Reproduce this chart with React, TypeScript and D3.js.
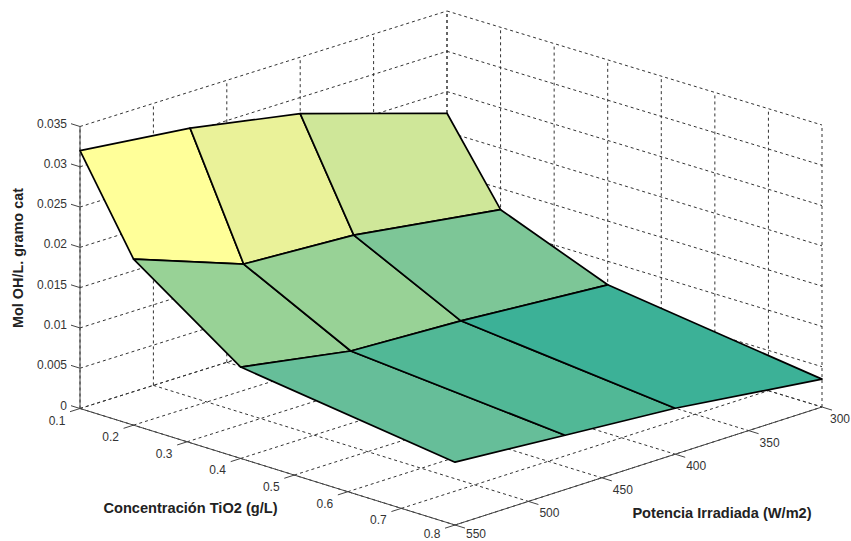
import React from 'react';
import * as d3 from 'd3';

// TiO2 concentration (rows) and irradiated power (columns) of the measured surface
const concentration = [0.1, 0.2, 0.4, 0.8];
const power = [550, 475, 400, 300];
const molOH = [
  [0.032, 0.0305, 0.02799, 0.02231],
  [0.0206, 0.01568, 0.01496, 0.01236],
  [0.01134, 0.00899, 0.0084, 0.00708],
  [0.0078, 0.00675, 0.0057, 0.00346],
];

const xTicks = [0.1, 0.2, 0.3, 0.4, 0.5, 0.6, 0.7, 0.8];
const yTicks = [300, 350, 400, 450, 500, 550];
const zTicks = [0, 0.005, 0.01, 0.015, 0.02, 0.025, 0.03, 0.035];
const zTickLabels = ['0', '0.005', '0.01', '0.015', '0.02', '0.025', '0.03', '0.035'];

const colorLevels = [0.0059, 0.0074, 0.0087, 0.0105, 0.012, 0.0142, 0.0192, 0.0222, 0.0247];
const colorStops = ['#38b097', '#50b896', '#66be99', '#79c497', '#98d296', '#98d296', '#cde699', '#e9f299', '#ffff99'];

const WIDTH = 851;
const HEIGHT = 541;
const origin = { x: 80, y: 408.5 };

// oblique projection: each axis adds its own screen offset
const xDx = d3.scaleLinear().domain([0.1, 0.8]).range([0, 375]);
const xDy = d3.scaleLinear().domain([0.1, 0.8]).range([0, 116.5]);
const yDx = d3.scaleLinear().domain([550, 300]).range([0, 367]);
const yDy = d3.scaleLinear().domain([550, 300]).range([0, -118]);
const zDy = d3.scaleLinear().domain([0, 0.035]).range([0, -282]);
// the back corner sits a little lower than a pure oblique view would put it
const xFar = d3.scaleLinear().domain([0.1, 0.8]).range([1, 0]);
const yFar = d3.scaleLinear().domain([550, 300]).range([0, 1]);
const SAG = 2.5;

const project = (x: number, y: number, z: number): [number, number] => [
  origin.x + xDx(x) + yDx(y),
  origin.y + xDy(x) + yDy(y) + zDy(z) + SAG * xFar(x) * yFar(y),
];

const path = d3.line();
const faceColor = d3.scaleLinear<string>().domain(colorLevels).range(colorStops);

const xMin = 0.1, xMax = 0.8, yFront = 550, yBack = 300, zTop = 0.035;
const tickColor = '#333';
const font = '"Liberation Sans", Arial, sans-serif';

function Seg({ a, b, dashed }: { a: [number, number]; b: [number, number]; dashed?: boolean }) {
  return (
    <path
      d={path([a, b]) as string}
      fill="none"
      stroke={dashed ? '#333' : '#444'}
      strokeWidth={1}
      strokeDasharray={dashed ? '3 3' : undefined}
    />
  );
}

export default function App() {
  const cells: { key: string; d: string; fill: string }[] = [];
  concentration.slice(0, -1).forEach((cx, i) => {
    power.slice(0, -1).forEach((py, j) => {
      const corners: [number, number][] = [
        project(cx, py, molOH[i][j]),
        project(cx, power[j + 1], molOH[i][j + 1]),
        project(concentration[i + 1], power[j + 1], molOH[i + 1][j + 1]),
        project(concentration[i + 1], py, molOH[i + 1][j]),
      ];
      const mean = (molOH[i][j] + molOH[i][j + 1] + molOH[i + 1][j] + molOH[i + 1][j + 1]) / 4;
      cells.push({ key: `${i}-${j}`, d: (path(corners) as string) + 'Z', fill: faceColor(mean) });
    });
  });

  return (
    <svg
      width={WIDTH}
      height={HEIGHT}
      style={{ position: 'absolute', left: 0, top: 0, background: '#fff' }}
      fontFamily={font}
    >
      {/* grid on the floor and the two back walls */}
      <g>
        {xTicks.map(x => (
          <g key={x}>
            <Seg dashed a={project(x, yFront, 0)} b={project(x, yBack, 0)} />
            <Seg dashed a={project(x, yBack, 0)} b={project(x, yBack, zTop)} />
          </g>
        ))}
        {yTicks.map(y => (
          <g key={y}>
            <Seg dashed a={project(xMin, y, 0)} b={project(xMax, y, 0)} />
            <Seg dashed a={project(xMin, y, 0)} b={project(xMin, y, zTop)} />
          </g>
        ))}
        {zTicks.map(z => (
          <g key={z}>
            <Seg dashed a={project(xMin, yFront, z)} b={project(xMin, yBack, z)} />
            <Seg dashed a={project(xMin, yBack, z)} b={project(xMax, yBack, z)} />
          </g>
        ))}
      </g>

      {/* axes */}
      <Seg a={project(xMin, yFront, 0)} b={project(xMin, yFront, zTop)} />
      <Seg a={project(xMin, yFront, 0)} b={project(xMax, yFront, 0)} />
      <Seg a={project(xMax, yFront, 0)} b={project(xMax, yBack, 0)} />

      {xTicks.map(x => {
        const [px, py] = project(x, yFront, 0);
        return (
          <g key={x}>
            <path d={`M${px},${py}L${px - 10},${py + 3.2}`} stroke="#444" fill="none" />
            <text x={px - 23} y={Math.min(py + 16, HEIGHT - 3)} textAnchor="middle" fontSize={12} fill={tickColor}>
              {d3.format('.1f')(x)}
            </text>
          </g>
        );
      })}
      {yTicks.map(y => {
        const [px, py] = project(xMax, y, 0);
        return (
          <g key={y}>
            <path d={`M${px},${py}L${px + 10},${py + 3.1}`} stroke="#444" fill="none" />
            <text
              x={Math.min(px + 21, WIDTH - 11)}
              y={Math.min(py + 16, HEIGHT - 3)}
              textAnchor="middle"
              fontSize={12}
              fill={tickColor}
            >
              {y}
            </text>
          </g>
        );
      })}
      {zTicks.map((z, i) => {
        const [px, py] = project(xMin, yFront, z);
        return (
          <g key={z}>
            <path d={`M${px},${py}L${px - 9},${py - 2.8}`} stroke="#444" fill="none" />
            <text x={px - 13} y={py + 1} textAnchor="end" fontSize={12} fill={tickColor}>
              {zTickLabels[i]}
            </text>
          </g>
        );
      })}

      {/* surface */}
      <g>
        {cells.map(c => (
          <path key={c.key} d={c.d} fill={c.fill} stroke="#000" strokeWidth={1.7} strokeLinejoin="round" />
        ))}
      </g>

      <text
        transform="translate(23,258) rotate(-90)"
        textAnchor="middle"
        fontSize={14.4}
        fontWeight="bold"
        fill="#222"
      >
        Mol OH/L. gramo cat
      </text>
      <text x={190.5} y={513} textAnchor="middle" fontSize={14.6} fontWeight="bold" fill="#222">
        Concentración TiO2 (g/L)
      </text>
      <text x={722} y={518} textAnchor="middle" fontSize={14.6} fontWeight="bold" fill="#222">
        Potencia Irradiada (W/m2)
      </text>
    </svg>
  );
}
